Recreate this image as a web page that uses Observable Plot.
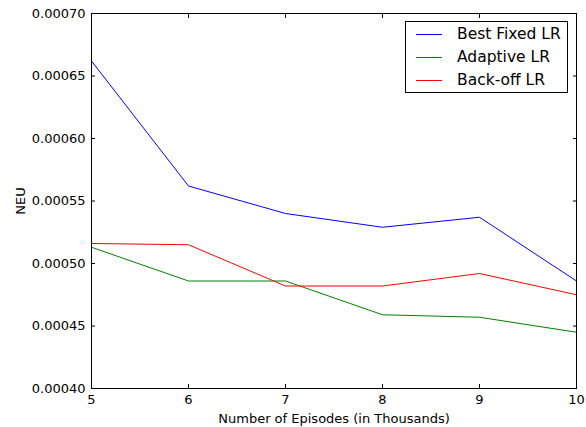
<!DOCTYPE html>
<html>
<head>
<meta charset="utf-8">
<script src="https://cdn.jsdelivr.net/npm/d3@7"></script>
<script src="https://cdn.jsdelivr.net/npm/@observablehq/plot@0.6"></script>
<style>
  html, body { margin: 0; padding: 0; background: #fff; }
  #wrap { position: relative; width: 586px; height: 427px; }
  #legend { position: absolute; left: 405px; top: 21px; width: 163px; height: 72px;
    border: 1px solid #000; background: #fff; box-sizing: border-box;
    font-family: "DejaVu Sans", sans-serif; font-size: 15.5px; }
  .item { position: absolute; left: 0; height: 20px; }
  .sw { position: absolute; left: 10px; width: 26px; height: 0; border-top: 1px solid; top: 10px; }
  .lb { position: absolute; left: 51px; top: 0px; white-space: nowrap; line-height: 20px; }
</style>
</head>
<body>
<div id="wrap"></div>
<script>
const episodes = [5, 6, 7, 8, 9, 10];
const bestFixed = [0.000662, 0.000562, 0.000540, 0.000529, 0.000537, 0.000486];
const adaptive  = [0.000513, 0.000486, 0.000486, 0.000459, 0.000457, 0.000445];
const backoff   = [0.000516, 0.000515, 0.000482, 0.000482, 0.000492, 0.000475];
const seriesNames = ["Best Fixed LR", "Adaptive LR", "Back-off LR"];
const seriesColors = ["#0000ff", "#008000", "#ff0000"];
const yTicks = [0.00040, 0.00045, 0.00050, 0.00055, 0.00060, 0.00065, 0.00070];
const xTicks = [5, 6, 7, 8, 9, 10];

const allSeries = [bestFixed, adaptive, backoff];
const rows = [];
allSeries.forEach((vals, i) => vals.forEach((v, j) => rows.push({x: episodes[j], y: v, s: seriesNames[i]})));

const font = "DejaVu Sans, sans-serif";
const chart = Plot.plot({
  width: 586, height: 427,
  marginLeft: 91, marginTop: 13, marginRight: 10, marginBottom: 39,
  style: {fontFamily: font, fontSize: "13px", color: "#000", background: "#fff"},
  x: {domain: [5, 10]},
  y: {domain: [0.0004, 0.0007]},
  color: {domain: seriesNames, range: seriesColors},
  marks: [
    Plot.axisY({ticks: yTicks, tickSize: 0, tickPadding: 6, tickFormat: d3.format(".5f"), label: "NEU", labelAnchor: "center", labelArrow: "none", labelOffset: 76, fontSize: 13}),
    Plot.axisY({ticks: yTicks, tickSize: -4, tickFormat: () => "", label: null}),
    Plot.axisY({anchor: "right", ticks: yTicks, tickSize: -4, tickFormat: () => "", label: null}),
    Plot.axisX({ticks: xTicks, tickSize: 0, tickPadding: 6, tickFormat: d3.format("d"), label: "Number of Episodes (in Thousands)", labelAnchor: "center", labelArrow: "none", labelOffset: 34, fontSize: 13}),
    Plot.axisX({ticks: xTicks, tickSize: -4, tickFormat: () => "", label: null}),
    Plot.axisX({anchor: "top", ticks: xTicks, tickSize: -4, tickFormat: () => "", label: null}),
    Plot.line(rows, {x: "x", y: "y", z: "s", stroke: "s", strokeWidth: 1}),
    Plot.frame({stroke: "#000", strokeWidth: 1})
  ]
});
const wrap = document.getElementById("wrap");
wrap.appendChild(chart);

const legend = document.createElement("div");
legend.id = "legend";
seriesNames.forEach((n, i) => {
  const it = document.createElement("div");
  it.className = "item";
  it.style.top = (2 + i * 23) + "px";
  it.innerHTML = `<div class="sw" style="border-color:${seriesColors[i]}"></div><div class="lb">${n}</div>`;
  legend.appendChild(it);
});
wrap.appendChild(legend);
</script>
</body>
</html>
